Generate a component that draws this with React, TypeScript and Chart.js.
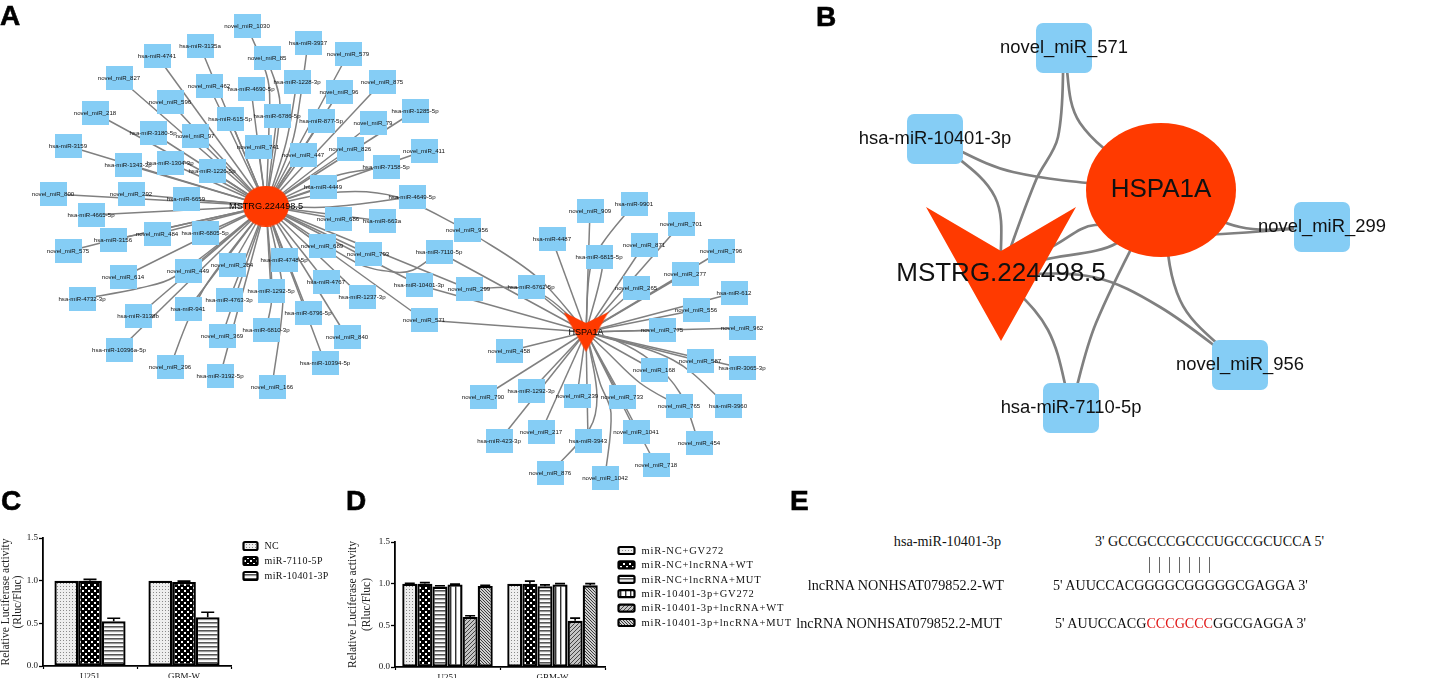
import React, { useEffect, useRef } from "react";
import { Chart, registerables } from "chart.js";

Chart.register(...registerables);

type Node = [string, number, number];

// ---------- Panel A: values ----------
const mstrgTargets: Node[] = [
  ["novel_miR_1030", 247, 26], ["hsa-miR-3135a", 200, 46], ["hsa-miR-4741", 157, 56], ["novel_miR_827", 119, 78],
  ["novel_miR_218", 95, 113], ["hsa-miR-3159", 68, 146], ["novel_miR_800", 53, 194], ["hsa-miR-4665-5p", 91, 215],
  ["novel_miR_85", 267, 58], ["novel_miR_462", 209, 86], ["hsa-miR-4690-5p", 251, 89], ["novel_miR_596", 170, 102],
  ["hsa-miR-615-5p", 230, 119], ["hsa-miR-6786-5p", 277, 116], ["hsa-miR-3180-5p", 153, 133], ["novel_miR_97", 195, 136],
  ["novel_miR_741", 258, 147], ["hsa-miR-1343-3p", 128, 165], ["hsa-miR-1304-3p", 170, 163], ["hsa-miR-1226-5p", 212, 171],
  ["novel_miR_292", 131, 194], ["hsa-miR-6659", 186, 199], ["hsa-miR-1228-3p", 297, 82], ["hsa-miR-3937", 308, 43],
  ["novel_miR_579", 348, 54], ["novel_miR_875", 382, 82], ["novel_miR_96", 339, 92], ["hsa-miR-1285-5p", 415, 111],
  ["hsa-miR-877-5p", 321, 121], ["novel_miR_79", 373, 123], ["novel_miR_447", 303, 155], ["novel_miR_826", 350, 149],
  ["novel_miR_411", 424, 151], ["hsa-miR-7158-5p", 386, 167], ["hsa-miR-4449", 323, 187], ["hsa-miR-4649-5p", 412, 197],
  ["novel_miR_686", 338, 219], ["hsa-miR-663a", 382, 221], ["hsa-miR-3156", 113, 240], ["novel_miR_484", 157, 234],
  ["hsa-miR-6805-5p", 205, 233], ["novel_miR_575", 68, 251], ["novel_miR_614", 123, 277], ["novel_miR_449", 188, 271],
  ["novel_miR_284", 232, 265], ["hsa-miR-4748-5p", 284, 260], ["hsa-miR-1292-5p", 271, 291], ["hsa-miR-4763-3p", 229, 300],
  ["hsa-miR-941", 188, 309], ["hsa-miR-4732-3p", 82, 299], ["hsa-miR-3138b", 138, 316], ["hsa-miR-10396a-5p", 119, 350],
  ["novel_miR_369", 222, 336], ["hsa-miR-6810-3p", 266, 330], ["novel_miR_296", 170, 367], ["hsa-miR-3192-5p", 220, 376],
  ["novel_miR_166", 272, 387], ["novel_miR_689", 322, 246], ["novel_miR_793", 368, 254], ["hsa-miR-4767", 326, 282],
  ["hsa-miR-1237-3p", 362, 297], ["hsa-miR-6796-5p", 308, 313], ["novel_miR_840", 347, 337], ["hsa-miR-10394-5p", 325, 363],
];
const sharedTargets: Node[] = [
  ["novel_miR_956", 467, 230], ["hsa-miR-7110-5p", 439, 252], ["hsa-miR-10401-3p", 419, 285],
  ["novel_miR_299", 469, 289], ["novel_miR_571", 424, 320],
];
const hspaTargets: Node[] = [
  ["novel_miR_909", 590, 211], ["hsa-miR-9901", 634, 204], ["novel_miR_701", 681, 224], ["hsa-miR-4487", 552, 239],
  ["novel_miR_871", 644, 245], ["novel_miR_796", 721, 251], ["hsa-miR-6815-5p", 599, 257], ["novel_miR_277", 685, 274],
  ["hsa-miR-6762-5p", 531, 287], ["novel_miR_265", 636, 288], ["hsa-miR-612", 734, 293], ["novel_miR_556", 696, 310],
  ["novel_miR_775", 662, 330], ["novel_miR_962", 742, 328], ["novel_miR_458", 509, 351], ["novel_miR_587", 700, 361],
  ["hsa-miR-3065-3p", 742, 368], ["novel_miR_168", 654, 370], ["novel_miR_790", 483, 397], ["hsa-miR-1292-3p", 531, 391],
  ["novel_miR_239", 577, 396], ["novel_miR_733", 622, 397], ["novel_miR_765", 679, 406], ["hsa-miR-3960", 728, 406],
  ["hsa-miR-423-3p", 499, 441], ["novel_miR_217", 541, 432], ["hsa-miR-3943", 588, 441], ["novel_miR_1041", 636, 432],
  ["novel_miR_454", 699, 443], ["novel_miR_876", 550, 473], ["novel_miR_718", 656, 465], ["novel_miR_1042", 605, 478],
];
const hubMstrgA: Node = ["MSTRG.224498.5", 266, 206];
const hubHspaA: Node = ["HSPA1A", 586, 332];

// Bends are listed walking from the outer node towards its hub.
const bendsMstrg: Record<string, number[][]> = {
  "novel_miR_1030": [[268, 80], [269, 125]],
  "novel_miR_85": [[280, 105]],
  "hsa-miR-3937": [[300, 100], [292, 143]],
  "hsa-miR-1228-3p": [[286, 143]],
  "hsa-miR-7158-5p": [[335, 176]],
  "hsa-miR-4732-3p": [[140, 288], [174, 277]],
  "novel_miR_614": [[163, 257]],
  "novel_miR_575": [[126, 237], [190, 223]],
  "novel_miR_296": [[189, 318], [208, 282]],
  "novel_miR_166": [[283, 300], [278, 260]],
  "hsa-miR-6810-3p": [[272, 295]],
  "novel_miR_956": [[397, 197], [340, 192]],
  "hsa-miR-4649-5p": [[330, 207]],
  "hsa-miR-7110-5p": [[413, 270], [393, 272], [357, 263]],
};
const bendsHspa: Record<string, number[][]> = {
  "hsa-miR-9901": [[602, 244], [590, 270]],
  "hsa-miR-6815-5p": [[602, 270]],
  "novel_miR_876": [[590, 428], [597, 397], [590, 350]],
  "novel_miR_1042": [[611, 413], [600, 383]],
  "novel_miR_454": [[680, 393], [650, 360], [615, 340]],
  "novel_miR_765": [[640, 383], [605, 350]],
  "hsa-miR-3960": [[673, 360]],
  "novel_miR_956": [[537, 277]],
  "novel_miR_299": [[520, 288], [548, 298]],
};

// ---------- Panel B ----------
const nodesB: Node[] = [
  ["novel_miR_571", 1064, 48], ["hsa-miR-10401-3p", 935, 139], ["novel_miR_299", 1322, 227],
  ["novel_miR_956", 1240, 365], ["hsa-miR-7110-5p", 1071, 408],
];
const hubMstrgB: Node = ["MSTRG.224498.5", 1001, 274];
const hubHspaB: Node = ["HSPA1A", 1161, 190];
const bendsBtoMstrg: Record<string, number[][]> = {
  "novel_miR_571": [[1058, 137], [1036, 180]],
  "hsa-miR-10401-3p": [[995, 197]],
  "novel_miR_299": [[1180, 235], [1095, 225], [1055, 245]],
  "novel_miR_956": [[1160, 307], [1093, 277]],
  "hsa-miR-7110-5p": [[1048, 330]],
};
const bendsBtoHspa: Record<string, number[][]> = {
  "novel_miR_571": [[1080, 123]],
  "hsa-miR-10401-3p": [[1013, 172]],
  "novel_miR_299": [[1240, 227]],
  "novel_miR_956": [[1180, 300]],
  "hsa-miR-7110-5p": [[1096, 323]],
};
const extraBEdge = [[1161, 190], [1117, 243], [1043, 260], [1001, 274]];

// ---------- Panels C and D ----------
const categories = ["U251", "GBM-W"];
const yTicks = [0, 0.5, 1, 1.5];
const seriesNamesC = ["NC", "miR-7110-5P", "miR-10401-3P"];
const nc = [1.0, 1.0];
const miR7110 = [1.0, 0.985];
const miR10401 = [0.525, 0.572];
const errNc = [1.0, 1.0];
const err7110 = [1.015, 0.995];
const err10401 = [0.56, 0.63];

const seriesNamesD = [
  "miR-NC+GV272", "miR-NC+lncRNA+WT", "miR-NC+lncRNA+MUT",
  "miR-10401-3p+GV272", "miR-10401-3p+lncRNA+WT", "miR-10401-3p+lncRNA+MUT",
];
const dNcGv = [1.0, 1.0];
const dNcWt = [1.0, 1.0];
const dNcMut = [0.965, 0.97];
const dMiGv = [0.99, 0.99];
const dMiWt = [0.6, 0.554];
const dMiMut = [0.973, 0.98];
const eNcGv = [1.005, 1.0];
const eNcWt = [1.012, 1.03];
const eNcMut = [0.975, 0.985];
const eMiGv = [0.995, 1.0];
const eMiWt = [0.615, 0.586];
const eMiMut = [0.98, 1.0];

// ---------- Panel E and letters ----------
const seqRows = [
  { name: "hsa-miR-10401-3p", nameRight: 448, seqLeft: 1095, y: 541, parts: [["3' GCCGCCCGCCCUGCCGCUCCA 5'", "#111"]] },
  { name: "lncRNA NONHSAT079852.2-WT", nameRight: 445, seqLeft: 1053, y: 585, parts: [["5' AUUCCACGGGGCGGGGGCGAGGA 3'", "#111"]] },
  { name: "lncRNA NONHSAT079852.2-MUT", nameRight: 447, seqLeft: 1055, y: 623, parts: [["5' AUUCCACG", "#111"], ["CCCGCCC", "#e01818"], ["GGCGAGGA 3'", "#111"]] },
];
const pairXs = [1149, 1159, 1169, 1179, 1189, 1199, 1209];
const panelLetters: [string, number, number][] = [["A", 0, 0], ["B", 816, 1], ["C", 1, 485], ["D", 346, 485], ["E", 790, 485]];

const BLUE = "#85cdf5";
const RED = "#ff3a00";
const GREY = "#808080";
const SANS = '"Liberation Sans", Arial, sans-serif';
const SERIF = '"Liberation Serif", "Times New Roman", serif';

function sprite(w: number, h: number, draw: (c: CanvasRenderingContext2D) => void) {
  const cv = document.createElement("canvas");
  cv.width = w;
  cv.height = h;
  draw(cv.getContext("2d")!);
  return cv;
}
const rectSprite = (w: number, h: number, r: number) =>
  sprite(w, h, (c) => {
    c.fillStyle = BLUE;
    c.beginPath();
    c.roundRect(0, 0, w, h, r);
    c.fill();
  });
const ellipseSprite = (w: number, h: number) =>
  sprite(w, h, (c) => {
    c.fillStyle = RED;
    c.beginPath();
    c.ellipse(w / 2, h / 2, w / 2, h / 2, 0, 0, Math.PI * 2);
    c.fill();
  });
const veeSprite = (w: number, h: number, notch: number) =>
  sprite(w, h, (c) => {
    c.fillStyle = RED;
    c.beginPath();
    c.moveTo(0, 0);
    c.lineTo(w / 2, notch);
    c.lineTo(w, 0);
    c.lineTo(w / 2, h);
    c.closePath();
    c.fill();
  });

const labelPlugin = {
  id: "nodeLabels",
  afterDatasetsDraw(chart: any) {
    const { ctx } = chart;
    ctx.save();
    ctx.textAlign = "center";
    ctx.textBaseline = "middle";
    chart.data.datasets.forEach((ds: any, i: number) => {
      if (!ds.nodeLabels) return;
      ctx.font = ds.labelFont;
      ctx.fillStyle = ds.labelColor || "#111";
      chart.getDatasetMeta(i).data.forEach((el: any, j: number) => {
        ctx.fillText(ds.nodeLabels[j], el.x, el.y);
      });
    });
    ctx.restore();
  },
};

function edgeSet(to: Node, targets: Node[], bends: Record<string, number[][]>, width: number) {
  return targets.map((t) => ({
    type: "scatter",
    showLine: true,
    order: 5,
    borderColor: GREY,
    borderWidth: width,
    pointRadius: 0,
    tension: 0.35,
    data: [[t[1], t[2]], ...(bends[t[0]] || []), [to[1], to[2]]].map(([x, y]) => ({ x, y })),
  }));
}
const nodeSet = (nodes: Node[], style: any, font: string, order: number, color?: string) => ({
  type: "scatter",
  order,
  pointStyle: style,
  pointRadius: 10,
  showLine: false,
  nodeLabels: nodes.map((n) => n[0]),
  labelFont: font,
  labelColor: color,
  data: nodes.map((n) => ({ x: n[1], y: n[2] })),
});

function networkChart(canvas: HTMLCanvasElement, datasets: any[], x0: number, x1: number, y0: number, y1: number) {
  return new Chart(canvas, {
    type: "scatter",
    data: { datasets },
    plugins: [labelPlugin],
    options: {
      animation: false,
      responsive: false,
      events: [],
      layout: { padding: 0, autoPadding: false },
      plugins: { legend: { display: false }, tooltip: { enabled: false } },
      scales: {
        x: { type: "linear", min: x0, max: x1, display: false },
        y: { type: "linear", reverse: true, min: y0, max: y1, display: false },
      },
    },
  } as any);
}

function tile(w: number, h: number, draw: (c: CanvasRenderingContext2D) => void) {
  const cv = sprite(w, h, (c) => {
    c.fillStyle = "#fff";
    c.fillRect(0, 0, w, h);
    draw(c);
  });
  return document.createElement("canvas").getContext("2d")!.createPattern(cv, "repeat")!;
}
const patterns = () => ({
  dots: tile(3, 3, (c) => {
    c.fillStyle = "#eeeeee";
    c.fillRect(0, 0, 3, 3);
    c.fillStyle = "#8a8a8a";
    c.fillRect(0, 0, 1, 1);
  }),
  checker: tile(6, 6, (c) => {
    c.fillStyle = "#000";
    c.fillRect(0, 0, 6, 6);
    c.fillStyle = "#fff";
    c.fillRect(1, 1, 2, 2);
    c.fillRect(4, 4, 2, 2);
  }),
  hlines: tile(4, 4, (c) => {
    c.fillStyle = "#555";
    c.fillRect(0, 0, 4, 1);
    c.fillStyle = "#999";
    c.fillRect(0, 1, 4, 1);
    c.fillStyle = "#eee";
    c.fillRect(0, 2, 4, 1);
  }),
  vlines: tile(5, 5, (c) => {
    c.fillStyle = "#333";
    c.fillRect(0, 0, 1, 5);
    c.fillStyle = "#aaa";
    c.fillRect(1, 0, 1, 5);
  }),
  diagA: tile(4, 4, (c) => {
    c.fillStyle = "#c4c4c4";
    c.fillRect(0, 0, 4, 4);
    c.fillStyle = "#444";
    [0, 1, 2, 3].forEach((i) => c.fillRect(i, 3 - i, 1, 1));
  }),
  diagB: tile(3, 3, (c) => {
    c.fillStyle = "#cfcfcf";
    c.fillRect(0, 0, 3, 3);
    c.fillStyle = "#3c3c3c";
    [0, 1, 2].forEach((i) => c.fillRect(i, i, 1, 1));
  }),
});

function barChart(canvas: HTMLCanvasElement, cfg: any) {
  const errorAndLegend = {
    id: "errorAndLegend",
    afterDatasetsDraw(chart: any) {
      const { ctx } = chart;
      const y = chart.scales.y;
      ctx.save();
      ctx.strokeStyle = "#000";
      ctx.lineWidth = 1.6;
      chart.data.datasets.forEach((ds: any, i: number) => {
        chart.getDatasetMeta(i).data.forEach((el: any, j: number) => {
          const top = y.getPixelForValue(ds.err[j]);
          if (ds.err[j] <= ds.data[j]) return;
          ctx.beginPath();
          ctx.moveTo(el.x, el.y);
          ctx.lineTo(el.x, top);
          ctx.moveTo(el.x - cfg.cap / 2, top);
          ctx.lineTo(el.x + cfg.cap / 2, top);
          ctx.stroke();
        });
      });
      ctx.font = cfg.legendFont;
      (ctx as any).letterSpacing = cfg.legendSpacing;
      ctx.textBaseline = "middle";
      ctx.fillStyle = "#111";
      chart.data.datasets.forEach((ds: any, i: number) => {
        const ly = cfg.legendY + i * cfg.legendStep;
        ctx.save();
        ctx.fillStyle = ds.backgroundColor;
        ctx.strokeStyle = "#000";
        ctx.lineWidth = 2.2;
        ctx.beginPath();
        ctx.roundRect(cfg.legendX, ly - cfg.swatchH / 2, cfg.swatchW, cfg.swatchH, 1.5);
        ctx.fill();
        ctx.stroke();
        ctx.restore();
        ctx.fillText(ds.label, cfg.legendX + cfg.swatchW + cfg.legendGap, ly + 0.5);
      });
      ctx.restore();
    },
  };
  return new Chart(canvas, {
    type: "bar",
    data: {
      labels: categories,
      datasets: cfg.series.map((s: any) => ({
        label: s.label,
        data: s.data,
        err: s.err,
        backgroundColor: s.fill,
        borderColor: "#000",
        borderWidth: 2.3,
        borderSkipped: false,
        categoryPercentage: cfg.groupWidth,
        barPercentage: 1,
      })),
    },
    plugins: [errorAndLegend],
    options: {
      animation: false,
      responsive: false,
      events: [],
      layout: { padding: { top: cfg.top, right: cfg.right, left: 0, bottom: 0 } },
      plugins: { legend: { display: false }, tooltip: { enabled: false } },
      scales: {
        x: {
          afterFit: (s: any) => { s.height = cfg.xHeight; },
          border: { display: true, color: "#000", width: 1.8 },
          grid: { drawOnChartArea: false, drawTicks: true, tickLength: 3, tickColor: "#000", tickWidth: 1.2 },
          ticks: { color: "#111", font: { family: SERIF, size: 9 }, padding: 2, maxRotation: 0 },
        },
        y: {
          min: 0,
          max: 1.5,
          afterFit: (s: any) => { s.width = cfg.yWidth; },
          afterBuildTicks: (s: any) => { s.ticks = yTicks.map((value) => ({ value })); },
          border: { display: true, color: "#000", width: 1.8 },
          grid: { drawOnChartArea: false, drawTicks: true, tickLength: 4, tickColor: "#000", tickWidth: 1.3 },
          ticks: { color: "#111", font: { family: SERIF, size: 9 }, padding: 1, callback: (v: any) => Number(v).toFixed(1) },
          title: {
            display: true,
            text: ["Relative Luciferase activity", "(Rluc/Fluc)"],
            color: "#222",
            font: { family: SERIF, size: cfg.titleSize, lineHeight: cfg.titleLh },
            padding: { top: cfg.titlePad, bottom: 0 },
          },
        },
      },
    },
  } as any);
}

const abs = (left: number, top: number, w: number, h: number): React.CSSProperties => ({
  position: "absolute",
  left,
  top,
  width: w,
  height: h,
});

export default function App() {
  const aRef = useRef<HTMLCanvasElement>(null);
  const bRef = useRef<HTMLCanvasElement>(null);
  const cRef = useRef<HTMLCanvasElement>(null);
  const dRef = useRef<HTMLCanvasElement>(null);

  useEffect(() => {
    const labelA = `6.1px ${SANS}`;
    const chartA = networkChart(
      aRef.current!,
      [
        nodeSet([hubMstrgA], ellipseSprite(46, 41), `9.2px ${SANS}`, 0, "#000"),
        nodeSet([hubHspaA], veeSprite(45, 40, 11), `9.1px ${SANS}`, 0, "#000"),
        nodeSet([...mstrgTargets, ...sharedTargets, ...hspaTargets], rectSprite(27, 24, 0), labelA, 1),
        ...edgeSet(hubMstrgA, [...mstrgTargets, ...sharedTargets], bendsMstrg, 1.5),
        ...edgeSet(hubHspaA, [...hspaTargets, ...sharedTargets], bendsHspa, 1.5),
      ],
      0, 800, 0, 492,
    );
    const labelB = `18.4px ${SANS}`;
    const chartB = networkChart(
      bRef.current!,
      [
        nodeSet([hubHspaB], ellipseSprite(150, 134), `26px ${SANS}`, 0, "#111"),
        nodeSet([hubMstrgB], veeSprite(150, 134, 44), `26px ${SANS}`, 1, "#111"),
        nodeSet(nodesB, rectSprite(56, 50, 7), labelB, 2, "#111"),
        ...edgeSet(hubMstrgB, nodesB, bendsBtoMstrg, 2.7),
        ...edgeSet(hubHspaB, nodesB, bendsBtoHspa, 2.7),
        {
          type: "scatter", showLine: true, order: 5, borderColor: GREY, borderWidth: 2.7, pointRadius: 0, tension: 0.3,
          data: extraBEdge.map(([x, y]) => ({ x, y })),
        },
      ],
      800, 1449, 0, 470,
    );
    const p = patterns();
    const chartC = barChart(cRef.current!, {
      top: 48, right: 109, xHeight: 12, yWidth: 43, groupWidth: 0.757, cap: 13,
      titleSize: 11.5, titleLh: 1.05, titlePad: 0,
      legendFont: `10px ${SERIF}`, legendSpacing: "0.4px", legendX: 243.5, legendY: 56, legendStep: 15,
      swatchW: 14, swatchH: 8, legendGap: 7,
      series: [
        { label: seriesNamesC[0], data: nc, err: errNc, fill: p.dots },
        { label: seriesNamesC[1], data: miR7110, err: err7110, fill: p.checker },
        { label: seriesNamesC[2], data: miR10401, err: err10401, fill: p.hlines },
      ],
    });
    const chartD = barChart(dRef.current!, {
      top: 52, right: 205, xHeight: 11, yWidth: 55, groupWidth: 0.862, cap: 10,
      titleSize: 11.5, titleLh: 1.2, titlePad: 6,
      legendFont: `10.5px ${SERIF}`, legendSpacing: "0.8px", legendX: 278.5, legendY: 60.5, legendStep: 14.4,
      swatchW: 16, swatchH: 7, legendGap: 7,
      series: [
        { label: seriesNamesD[0], data: dNcGv, err: eNcGv, fill: p.dots },
        { label: seriesNamesD[1], data: dNcWt, err: eNcWt, fill: p.checker },
        { label: seriesNamesD[2], data: dNcMut, err: eNcMut, fill: p.hlines },
        { label: seriesNamesD[3], data: dMiGv, err: eMiGv, fill: p.vlines },
        { label: seriesNamesD[4], data: dMiWt, err: eMiWt, fill: p.diagA },
        { label: seriesNamesD[5], data: dMiMut, err: eMiMut, fill: p.diagB },
      ],
    });
    return () => {
      chartA.destroy();
      chartB.destroy();
      chartC.destroy();
      chartD.destroy();
    };
  }, []);

  return (
    <div style={{ ...abs(0, 0, 1449, 678), background: "#fff", overflow: "hidden" }}>
      <canvas ref={aRef} width={800} height={492} style={{ ...abs(0, 0, 800, 492), filter: "blur(0.45px)" }} />
      <canvas ref={bRef} width={649} height={470} style={{ ...abs(800, 0, 649, 470), filter: "blur(0.3px)" }} />
      <canvas ref={cRef} width={340} height={188} style={{ ...abs(0, 490, 340, 188), filter: "blur(0.35px)" }} />
      <canvas ref={dRef} width={470} height={188} style={{ ...abs(340, 490, 470, 188), filter: "blur(0.35px)" }} />
      {panelLetters.map(([t, x, y]) => (
        <div key={t} style={{ position: "absolute", left: x, top: y, font: `bold 28px ${SANS}`, WebkitTextStroke: "0.6px #000", color: "#000", lineHeight: "32px" }}>{t}</div>
      ))}
      {seqRows.map((r) => (
        <React.Fragment key={r.name}>
          <div style={{ position: "absolute", right: r.nameRight, top: r.y - 10, font: `14.2px ${SERIF}`, lineHeight: "20px", color: "#111", whiteSpace: "nowrap" }}>{r.name}</div>
          <div style={{ position: "absolute", left: r.seqLeft, top: r.y - 10, font: `14.1px ${SERIF}`, lineHeight: "20px", whiteSpace: "nowrap" }}>
            {r.parts.map(([s, col], i) => (
              <span key={i} style={{ color: col }}>{s}</span>
            ))}
          </div>
        </React.Fragment>
      ))}
      {pairXs.map((x) => (
        <div key={x} style={{ ...abs(x, 557, 1, 16), background: "#666" }} />
      ))}
    </div>
  );
}
